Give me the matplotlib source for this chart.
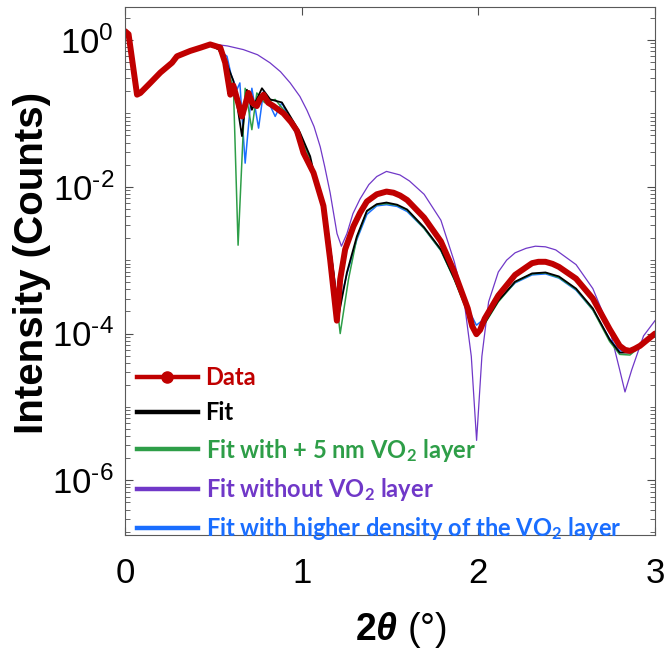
import matplotlib
matplotlib.use("Agg")
import matplotlib.pyplot as plt
from matplotlib.lines import Line2D
from matplotlib.ticker import LogLocator, NullFormatter, FixedLocator, FuncFormatter
import numpy as np

from matplotlib import rcParams
rcParams['font.family'] = 'sans-serif'
rcParams['font.sans-serif'] = ['Liberation Sans', 'DejaVu Sans']
rcParams['mathtext.fontset'] = 'custom'
rcParams['mathtext.default'] = 'regular'
rcParams['mathtext.bf'] = 'Liberation Sans:bold'
rcParams['mathtext.bfit'] = 'Liberation Sans:bold:italic'

# critical-angle region, shared by data and all fits
x_low = [0.0, 0.02, 0.068, 0.087, 0.143, 0.2, 0.266, 0.294, 0.369, 0.43, 0.482]
i_low = [1.32, 1.2, 0.18, 0.19, 0.26, 0.36, 0.49, 0.60, 0.71, 0.79, 0.87]

# measured reflectivity
x_data = [0.539, 0.567, 0.596, 0.613, 0.662, 0.699, 0.72, 0.746, 0.765, 0.784,
          0.81, 0.84, 0.897, 0.94, 0.973, 1.01, 1.067, 1.123, 1.161, 1.199,
          1.218, 1.246, 1.293, 1.33, 1.369, 1.425, 1.48, 1.52, 1.557, 1.597,
          1.693, 1.788, 1.864, 1.94, 1.965, 1.989, 2.01, 2.036, 2.113, 2.208,
          2.304, 2.34, 2.38, 2.42, 2.456, 2.553, 2.648, 2.743, 2.80, 2.83,
          2.858, 2.885, 2.915, 3.0]
i_data = [0.79, 0.49, 0.18, 0.24, 0.091, 0.19, 0.14, 0.126, 0.158, 0.18,
          0.14, 0.126, 0.10, 0.076, 0.058, 0.029, 0.0155, 0.0055, 0.00102, 1.5e-4,
          5.5e-4, 1.4e-3, 2.9e-3, 4.4e-3, 6.3e-3, 7.9e-3, 8.6e-3, 8.3e-3, 7.6e-3, 6.6e-3,
          3.8e-3, 1.8e-3, 6.9e-4, 2.2e-4, 1.26e-4, 9.8e-5, 1.12e-4, 1.6e-4, 3.3e-4, 6.3e-4,
          9.1e-4, 9.5e-4, 9.5e-4, 8.9e-4, 8.1e-4, 5.6e-4, 3.0e-4, 1.15e-4, 6.8e-5, 6.0e-5,
          5.8e-5, 6.2e-5, 6.8e-5, 1.0e-4]

# best fit
x_fit = [0.53, 0.577, 0.614, 0.662, 0.69, 0.718, 0.775, 0.822, 0.888, 0.99,
         1.048, 1.086, 1.142, 1.18, 1.208, 1.256, 1.312, 1.369, 1.425, 1.48,
         1.54, 1.597, 1.693, 1.788, 1.864, 1.94, 1.989, 2.036, 2.113, 2.208,
         2.304, 2.38, 2.456, 2.553, 2.648, 2.743, 2.80, 2.858, 2.915, 3.0]
i_fit = [0.74, 0.47, 0.275, 0.049, 0.21, 0.112, 0.22, 0.155, 0.141, 0.055,
         0.026, 0.0102, 0.0032, 6.8e-4, 1.7e-4, 6.8e-4, 2.1e-3, 4.7e-3, 5.8e-3, 6.1e-3,
         5.7e-3, 4.9e-3, 2.8e-3, 1.4e-3, 5.6e-4, 2.0e-4, 1.05e-4, 1.4e-4, 2.8e-4, 5.1e-4,
         6.6e-4, 6.8e-4, 6.0e-4, 4.1e-4, 2.2e-4, 8.3e-5, 5.5e-5, 5.5e-5, 6.8e-5, 1.0e-4]

# fit with 5 nm thicker VO2
x_thick = [0.53, 0.577, 0.614, 0.64, 0.68, 0.718, 0.746, 0.79, 0.85, 0.9,
           0.944, 0.99, 1.048, 1.086, 1.142, 1.18, 1.218, 1.265, 1.312, 1.369,
           1.425, 1.48, 1.54, 1.597, 1.693, 1.788, 1.864, 1.94, 1.989, 2.036,
           2.113, 2.208, 2.304, 2.38, 2.456, 2.553, 2.648, 2.743, 2.80, 2.858,
           2.915, 3.0]
i_thick = [0.74, 0.47, 0.21, 1.6e-3, 0.22, 0.06, 0.19, 0.14, 0.155, 0.11,
           0.079, 0.05, 0.024, 0.0098, 0.0030, 6.5e-4, 1.0e-4, 5.5e-4, 2.0e-3, 4.6e-3,
           5.7e-3, 5.9e-3, 5.6e-3, 4.8e-3, 2.7e-3, 1.35e-3, 5.4e-4, 1.9e-4, 1.0e-4, 1.35e-4,
           2.7e-4, 5.0e-4, 6.5e-4, 6.7e-4, 5.8e-4, 4.0e-4, 2.1e-4, 7.8e-5, 5.2e-5, 5.1e-5,
           6.6e-5, 1.0e-4]

# fit without VO2 layer
x_bare = [0.53, 0.58, 0.67, 0.75, 0.82, 0.88, 0.935, 0.99, 1.03, 1.07,
          1.105, 1.13, 1.161, 1.2, 1.225, 1.256, 1.29, 1.33, 1.38, 1.425,
          1.48, 1.556, 1.61, 1.693, 1.788, 1.864, 1.92, 1.96, 1.99, 2.02,
          2.058, 2.113, 2.16, 2.208, 2.27, 2.323, 2.38, 2.438, 2.553, 2.648,
          2.743, 2.80, 2.83, 2.868, 2.935, 3.0]
i_bare = [0.86, 0.83, 0.74, 0.63, 0.49, 0.37, 0.26, 0.17, 0.11, 0.066,
          0.035, 0.019, 8.3e-3, 2.3e-3, 1.55e-3, 2.3e-3, 4.3e-3, 6.8e-3, 0.0107, 0.0138,
          0.0162, 0.0145, 0.012, 7.9e-3, 3.5e-3, 9.5e-4, 2.7e-4, 4.9e-5, 3.5e-6, 4.9e-5,
          2.7e-4, 6.9e-4, 1.0e-3, 1.26e-3, 1.45e-3, 1.55e-3, 1.52e-3, 1.38e-3, 8.7e-4, 4.1e-4,
          1.15e-4, 3.2e-5, 1.6e-5, 3.2e-5, 9.3e-5, 1.5e-4]

# fit with denser VO2
x_dense = [0.53, 0.577, 0.6, 0.633, 0.65, 0.68, 0.718, 0.756, 0.784, 0.85,
           0.888, 0.973, 1.03, 1.086, 1.142, 1.18, 1.208, 1.256, 1.312, 1.369,
           1.425, 1.48, 1.54, 1.597, 1.693, 1.788, 1.864, 1.94, 1.989, 2.036,
           2.113, 2.208, 2.304, 2.38, 2.456, 2.553, 2.648, 2.743, 2.80, 2.858,
           2.915, 3.0]
i_dense = [0.74, 0.6, 0.34, 0.21, 0.26, 0.021, 0.22, 0.063, 0.2, 0.091,
           0.14, 0.049, 0.028, 0.0105, 0.0033, 7.0e-4, 2.1e-4, 6.5e-4, 1.9e-3, 4.2e-3,
           5.5e-3, 5.7e-3, 5.4e-3, 4.6e-3, 2.7e-3, 1.35e-3, 5.6e-4, 2.2e-4, 1.3e-4, 1.6e-4,
           2.8e-4, 4.9e-4, 6.3e-4, 6.5e-4, 5.7e-4, 3.9e-4, 2.1e-4, 8.5e-5, 5.8e-5, 5.8e-5,
           6.9e-5, 1.0e-4]

c_data = "#C00000"
c_fit = "black"
c_thick = "#2E9E48"
c_bare = "#7038C8"
c_dense = "#1A6EFF"

labels = ["Data", "Fit", "Fit with + 5 nm VO$_2$ layer", "Fit without VO$_2$ layer",
          "Fit with higher density of the VO$_2$ layer"]


def decade_label(v, pos):
    """10^n with a short hyphen instead of the wide math minus"""
    n = int(round(np.log10(v)))
    exp = str(abs(n)) if n >= 0 else "\u2010" + str(abs(n))
    return r"$\mathdefault{10^{%s}}$" % exp


fig = plt.figure(figsize=(6.65, 6.54), dpi=100)
ax = fig.add_axes([0.188, 0.182, 0.797, 0.807])

ax.plot(x_low + x_bare, i_low + i_bare, color=c_bare, lw=0.9)
ax.plot(x_low + x_dense, i_low + i_dense, color=c_dense, lw=1.1)
ax.plot(x_low + x_thick, i_low + i_thick, color=c_thick, lw=1.1)
ax.plot(x_low + x_fit, i_low + i_fit, color=c_fit, lw=1.3)
ax.plot(x_low + x_data, i_low + i_data, color=c_data, lw=4.3,
        solid_joinstyle='round', solid_capstyle='round')

ax.set_yscale('log')
ax.set_xlim(0, 3)
ax.set_ylim(1.8e-7, 2.8)

ax.xaxis.set_major_locator(FixedLocator([0, 1, 2, 3]))
ax.yaxis.set_major_locator(FixedLocator([1e-6, 1e-4, 1e-2, 1e0]))
ax.yaxis.set_major_formatter(FuncFormatter(decade_label))
ax.yaxis.set_minor_locator(LogLocator(base=10, subs=np.arange(1, 10), numticks=20))
ax.yaxis.set_minor_formatter(NullFormatter())
ax.tick_params(which='both', direction='in', top=True, right=True, color='0.3')
ax.tick_params(axis='x', which='major', length=6, width=0.8, pad=16, labelsize=25)
ax.tick_params(axis='y', which='major', length=6, width=0.8, pad=8, labelsize=25)
ax.tick_params(axis='y', which='minor', length=3.5, width=0.6)
for s in ax.spines.values():
    s.set_color('0.35')
    s.set_linewidth(0.8)

ax.set_ylabel("Intensity (Counts)", fontsize=29, fontweight='bold', va='center')
ax.yaxis.set_label_coords(-0.175, 0.515)
ax.set_xlabel(r"$\mathbf{2}\mathbfit{\theta}$ (°)", fontsize=27, va='center')
ax.xaxis.set_label_coords(0.52, -0.18)

handles = [Line2D([], [], color=c_data, lw=3.2, marker='o', markersize=8),
           Line2D([], [], color=c_fit, lw=3.2),
           Line2D([], [], color=c_thick, lw=3.2),
           Line2D([], [], color=c_bare, lw=3.2),
           Line2D([], [], color=c_dense, lw=3.2)]
leg = ax.legend(handles, labels, loc='lower left', bbox_to_anchor=(-0.008, -0.045),
                frameon=False, handlelength=2.55, handletextpad=0.34,
                labelspacing=0.52, borderpad=0.2,
                prop={'family': 'Lato', 'weight': 'bold', 'size': 17})
for txt, c in zip(leg.get_texts(), [c_data, c_fit, c_thick, c_bare, c_dense]):
    txt.set_color(c)

fig.savefig("out.png", dpi=100)
